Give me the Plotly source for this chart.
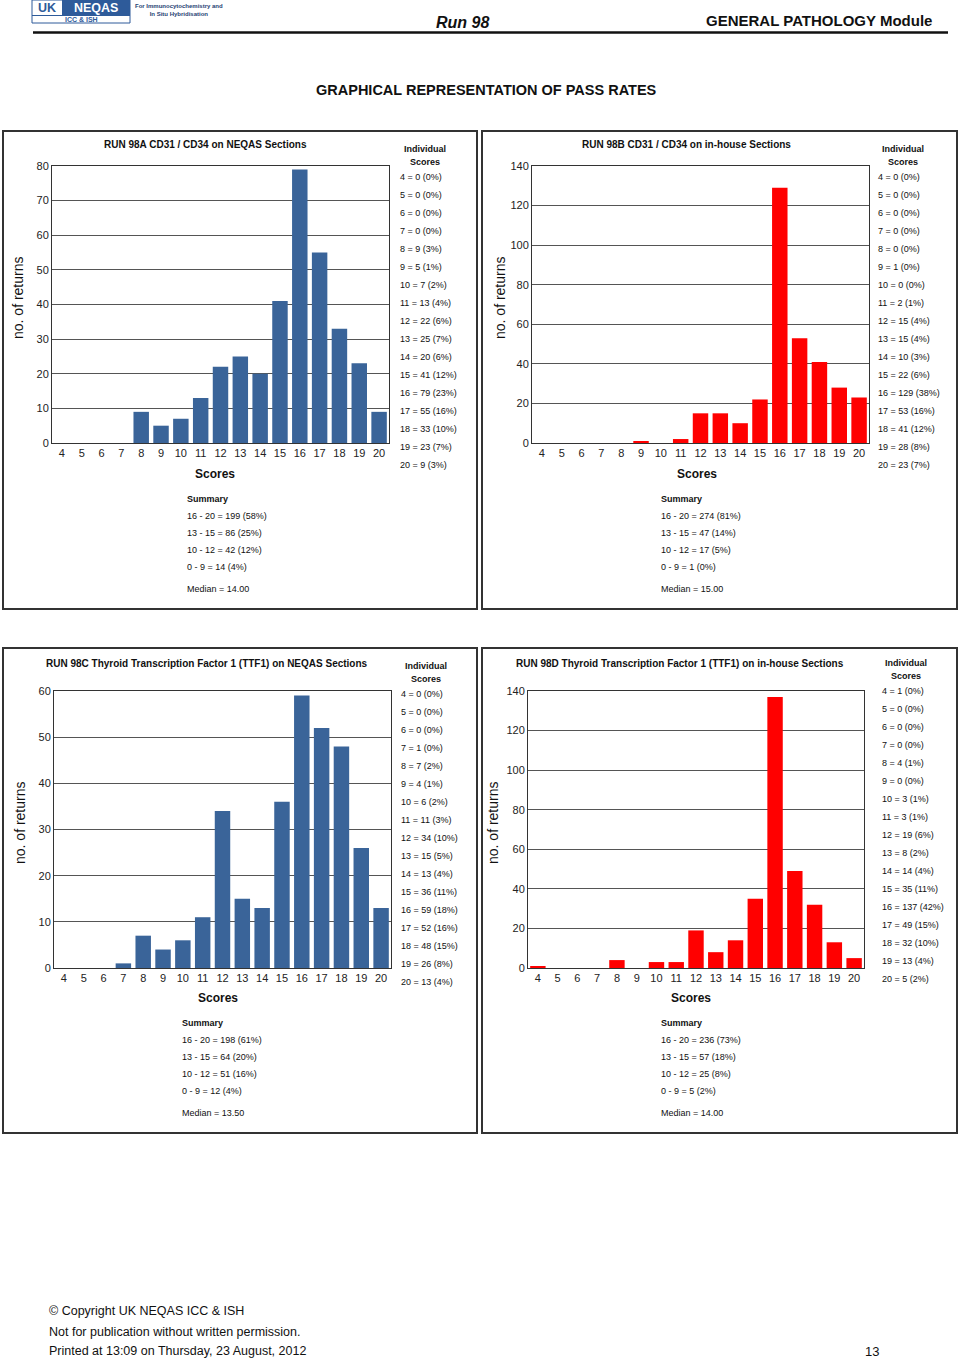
import plotly.graph_objects as go

W, H = 960, 1360
FONT = "Arial, Liberation Sans, sans-serif"

scores = list(range(4, 21))
run_a = [0, 0, 0, 0, 9, 5, 7, 13, 22, 25, 20, 41, 79, 55, 33, 23, 9]
run_b = [0, 0, 0, 0, 0, 1, 0, 2, 15, 15, 10, 22, 129, 53, 41, 28, 23]
run_c = [0, 0, 0, 1, 7, 4, 6, 11, 34, 15, 13, 36, 59, 52, 48, 26, 13]
run_d = [1, 0, 0, 0, 4, 0, 3, 3, 19, 8, 14, 35, 137, 49, 32, 13, 5]
titles = ["RUN 98A CD31 / CD34 on NEQAS Sections",
          "RUN 98B CD31 / CD34 on in-house Sections",
          "RUN 98C Thyroid Transcription Factor 1 (TTF1) on NEQAS Sections",
          "RUN 98D Thyroid Transcription Factor 1 (TTF1) on in-house Sections"]
medians = ["14.00", "15.00", "13.50", "14.00"]
y_max = [80, 140, 60, 140]
y_step = [10, 20, 10, 20]
bar_colors = ["#3A6499", "#FF0000", "#3A6499", "#FF0000"]
ranges = [(16, 20), (13, 15), (10, 12), (0, 9)]

series = [run_a, run_b, run_c, run_d]

# layout geometry (pixels)
plot_box = [(52, 389, 166, 443), (532, 869, 166, 443),
            (54, 391, 691, 968), (528, 864, 691, 968)]
panel_box = [(3, 477, 131, 609), (482, 957, 131, 609),
             (3, 477, 648, 1133), (482, 957, 648, 1133)]
title_pos = [(205, 145), (686, 145), (207, 663), (680, 663)]
indiv_pos = [(425, 398, 149, 177), (903, 876, 149, 177),
             (426, 399, 666, 694), (906, 880, 663, 691)]
scores_lbl = [(215, 474), (697, 474), (218, 998), (691, 998)]
ytitle = [(18, 298), (500, 298), (20, 823), (493, 823)]
summary_pos = [(185, 499), (659, 499), (180, 1023), (659, 1023)]


def px(x):
    return x / W


def py(y):
    return 1 - y / H


def pct(v, total):
    return int(v * 100.0 / total + 0.5)


fig = go.Figure()
annotations = []
shapes = []
layout_axes = {}

for i, vals in enumerate(series):
    k = "" if i == 0 else str(i + 1)
    x0, x1, y0, y1 = plot_box[i]
    fig.add_trace(go.Bar(x=scores, y=vals, marker=dict(color=bar_colors[i], line=dict(width=0)),
                         width=0.78, xaxis="x" + k, yaxis="y" + k, showlegend=False))
    layout_axes["xaxis" + k] = dict(domain=[px(x0), px(x1)], anchor="y" + k,
                                    range=[3.5, 20.5], tickvals=scores, ticks="",
                                    showgrid=False, showline=True, linecolor="#333", linewidth=1,
                                    mirror=True, zeroline=False, automargin=False,
                                    tickfont=dict(family=FONT, size=11, color="#222"))
    layout_axes["yaxis" + k] = dict(domain=[py(y1), py(y0)], anchor="x" + k,
                                    range=[0, y_max[i]], dtick=y_step[i], ticks="",
                                    showgrid=True, gridcolor="#555", gridwidth=1,
                                    showline=True, linecolor="#333", linewidth=1, mirror=True,
                                    zeroline=False, automargin=False,
                                    tickfont=dict(family=FONT, size=11, color="#222"))
    # panel border
    bx0, bx1, by0, by1 = panel_box[i]
    shapes.append(dict(type="rect", xref="paper", yref="paper", x0=px(bx0), x1=px(bx1),
                       y0=py(by1), y1=py(by0), line=dict(color="#333", width=2)))
    # title
    tx, ty = title_pos[i]
    annotations.append(dict(x=px(tx), y=py(ty), text="<b>" + titles[i] + "</b>", showarrow=False,
                            xref="paper", yref="paper", xanchor="center", yanchor="middle",
                            font=dict(family=FONT, size=10, color="#111")))
    # individual scores
    cx, lx, hy, sy = indiv_pos[i]
    annotations.append(dict(x=px(cx), y=py(hy), text="<b>Individual</b>", showarrow=False,
                            xref="paper", yref="paper", xanchor="center", yanchor="middle",
                            font=dict(family=FONT, size=9, color="#111")))
    annotations.append(dict(x=px(cx), y=py(hy + 13), text="<b>Scores</b>", showarrow=False,
                            xref="paper", yref="paper", xanchor="center", yanchor="middle",
                            font=dict(family=FONT, size=9, color="#111")))
    total = sum(vals)
    for j, (s, v) in enumerate(zip(scores, vals)):
        annotations.append(dict(x=px(lx), y=py(sy + 18 * j),
                                text="%d = %d (%d%%)" % (s, v, pct(v, total)), showarrow=False,
                                xref="paper", yref="paper", xanchor="left", yanchor="middle",
                                font=dict(family=FONT, size=9, color="#111")))
    # axis titles
    sx, sy2 = scores_lbl[i]
    annotations.append(dict(x=px(sx), y=py(sy2), text="<b>Scores</b>", showarrow=False,
                            xref="paper", yref="paper", xanchor="center", yanchor="middle",
                            font=dict(family=FONT, size=12, color="#111")))
    yx, yy = ytitle[i]
    annotations.append(dict(x=px(yx), y=py(yy), text="no. of returns", showarrow=False,
                            textangle=-90, xref="paper", yref="paper", xanchor="center",
                            yanchor="middle", font=dict(family=FONT, size=14, color="#111")))
    # summary
    smx, smy = summary_pos[i]
    annotations.append(dict(x=px(smx), y=py(smy), text="<b>Summary</b>", showarrow=False,
                            xref="paper", yref="paper", xanchor="left", yanchor="middle",
                            font=dict(family=FONT, size=9, color="#111")))
    for j, (lo, hi) in enumerate(ranges):
        cnt = sum(v for s, v in zip(scores, vals) if lo <= s <= hi)
        annotations.append(dict(x=px(smx), y=py(smy + 17 * (j + 1)),
                                text="%d - %d = %d (%d%%)" % (lo, hi, cnt, pct(cnt, total)),
                                showarrow=False, xref="paper", yref="paper", xanchor="left",
                                yanchor="middle", font=dict(family=FONT, size=9, color="#111")))
    annotations.append(dict(x=px(smx), y=py(smy + 90), text="Median = " + medians[i],
                            showarrow=False, xref="paper", yref="paper", xanchor="left",
                            yanchor="middle", font=dict(family=FONT, size=9, color="#111")))

# header logo
LOGO = "#2E5B9A"
shapes.append(dict(type="rect", xref="paper", yref="paper", x0=px(32), x1=px(130), y0=py(23), y1=py(0),
                   line=dict(color=LOGO, width=1), fillcolor="white"))
shapes.append(dict(type="rect", xref="paper", yref="paper", x0=px(62), x1=px(130), y0=py(15.5), y1=py(0),
                   line=dict(width=0), fillcolor=LOGO))
shapes.append(dict(type="line", xref="paper", yref="paper", x0=px(32), x1=px(130), y0=py(15.5), y1=py(15.5),
                   line=dict(color=LOGO, width=1)))
annotations += [
    dict(x=px(47), y=py(8.5), text="<b>UK</b>", showarrow=False, xref="paper", yref="paper",
         borderpad=0, xanchor="center", yanchor="middle", font=dict(family=FONT, size=12.5, color=LOGO)),
    dict(x=px(96), y=py(8.5), text="<b>NEQAS</b>", showarrow=False, xref="paper", yref="paper",
         borderpad=0, xanchor="center", yanchor="middle", font=dict(family=FONT, size=12.5, color="white")),
    dict(x=px(81), y=py(19.3), text="<b>ICC &amp; ISH</b>", showarrow=False, xref="paper", yref="paper",
         borderpad=0, xanchor="center", yanchor="middle", font=dict(family=FONT, size=7, color=LOGO)),
    dict(x=px(179), y=py(10), text="<b>For Immunocytochemistry and<br>In Situ Hybridisation</b>",
         showarrow=False, xref="paper", yref="paper", xanchor="center", yanchor="middle",
         font=dict(family=FONT, size=6, color="#1F3F73")),
    dict(x=px(462), y=py(22), text="<b><i>Run 98</i></b>", showarrow=False, xref="paper", yref="paper",
         xanchor="center", yanchor="middle", font=dict(family=FONT, size=16, color="#111")),
    dict(x=px(934), y=py(21), text="<b>GENERAL PATHOLOGY Module</b>", showarrow=False,
         xref="paper", yref="paper", xanchor="right", yanchor="middle",
         font=dict(family=FONT, size=15, color="#111")),
    dict(x=px(486), y=py(90), text="<b>GRAPHICAL REPRESENTATION OF PASS RATES</b>", showarrow=False,
         xref="paper", yref="paper", xanchor="center", yanchor="middle",
         font=dict(family=FONT, size=14.5, color="#111")),
]
shapes.append(dict(type="line", xref="paper", yref="paper", x0=px(33), x1=px(948), y0=py(32.5), y1=py(32.5),
                   line=dict(color="#111", width=2.5)))

# footer
NARROW = "Liberation Sans Narrow, Arial Narrow, sans-serif"
footer = ["© Copyright UK NEQAS ICC &amp; ISH", "Not for publication without written permission.",
          "Printed at 13:09 on Thursday, 23 August, 2012"]
for j, (t, yy) in enumerate(zip(footer, [1311, 1332, 1351])):
    annotations.append(dict(x=px(47), y=py(yy), text=t, showarrow=False, xref="paper", yref="paper",
                            xanchor="left", yanchor="middle", font=dict(family=NARROW, size=12.5, color="#111")))
annotations.append(dict(x=px(872), y=py(1351), text="13", showarrow=False, xref="paper", yref="paper",
                        xanchor="center", yanchor="middle", font=dict(family=NARROW, size=13, color="#111")))

fig.update_layout(template="none", width=W, height=H, margin=dict(l=0, r=0, t=0, b=0, pad=0),
                  autosize=False, paper_bgcolor="white", plot_bgcolor="white", bargap=0.2,
                  annotations=annotations, shapes=shapes, **layout_axes)
fig.write_html("out.html", config={"displayModeBar": False, "responsive": False},
               post_script="document.body.style.margin='0';document.body.style.padding='0';"
                           "document.documentElement.style.overflow='hidden';")
